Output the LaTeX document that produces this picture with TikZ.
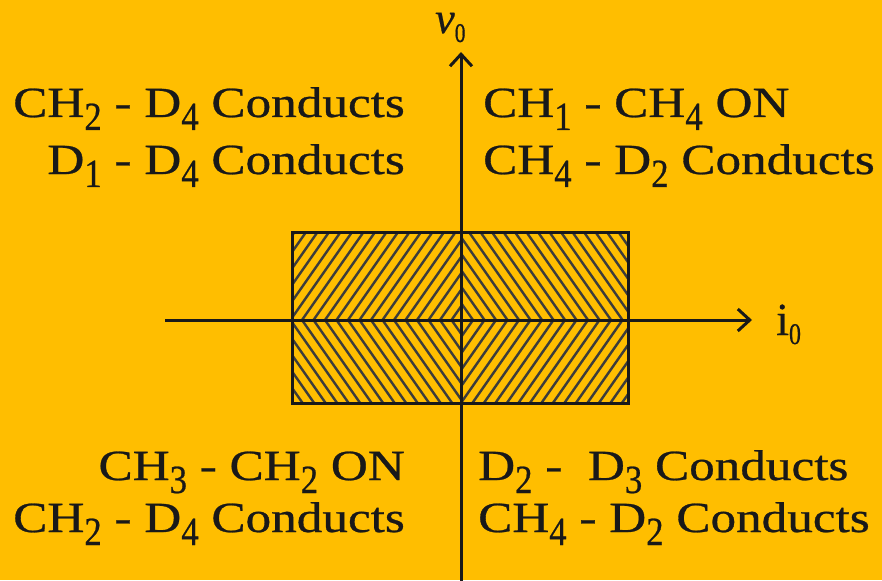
\documentclass[tikz,border=0pt]{standalone}
\usepackage{fontspec}
\setmainfont{Liberation Serif}[FakeBold=0.6]
\usetikzlibrary{arrows.meta}
\definecolor{bg}{RGB}{255,190,0}
\definecolor{ink}{RGB}{25,25,25}
\definecolor{hatch}{RGB}{60,60,60}
\newcommand\sbs[1]{\raisebox{-13pt}{\scalebox{0.73}[1]{\fontsize{40}{40}\selectfont #1}}}
\newcommand\widetxt[1]{\scalebox{1.19}[1]{#1}}
\begin{document}
\begin{tikzpicture}[x=1pt,y=-1pt,
  lbl/.style={font=\fontsize{43}{43}\selectfont, text=ink, inner sep=0pt},
  axis/.style={line width=3pt, draw=ink, -{Straight Barb[length=12pt,width=22pt,line width=3pt]}},
  hatchline/.style={line width=2.4pt, draw=hatch}]
\fill[bg] (0,0) rectangle (882,580);
\useasboundingbox (0,0) rectangle (882,580);
% hatching
\begin{scope}
  \clip (292,232) rectangle (461,320);
  \foreach \x in {180,191.5,...,500} \draw[hatchline] (\x,330) -- ++(77,-110);
\end{scope}
\begin{scope}
  \clip (461,232) rectangle (628,320);
  \foreach \x in {380,391.5,...,700} \draw[hatchline] (\x,220) -- ++(77,110);
\end{scope}
\begin{scope}
  \clip (292,320) rectangle (461,403);
  \foreach \x in {180,191.5,...,500} \draw[hatchline] (\x,310) -- ++(77,110);
\end{scope}
\begin{scope}
  \clip (461,320) rectangle (628,403);
  \foreach \x in {380,391.5,...,700} \draw[hatchline] (\x,420) -- ++(77,-110);
\end{scope}
\node[draw=ink, line width=3pt, minimum width=336pt, minimum height=171pt, inner sep=0pt] (box) at (460,317.5) {};
% axes
\coordinate (xs) at (165,320);
\coordinate (xe) at (752,320);
\coordinate (ys) at (461,582);
\coordinate (ye) at (461,52);
\draw[axis] (xs) -- (xe);
\draw[axis] (ys) -- (ye);
% axis labels
\node[lbl, anchor=base west, font=\fontsize{44}{44}\selectfont] (vlab) at (435,33) {\textit{v}\raisebox{-9pt}{\scalebox{0.8}[1]{\fontsize{27}{27}\selectfont 0}}};
\node[lbl, anchor=base west, font=\fontsize{46}{46}\selectfont] (ilab) at (776,335) {i\raisebox{-9pt}{\scalebox{0.8}[1]{\fontsize{30}{30}\selectfont 0}}};
% quadrant texts
\node[lbl, anchor=base east] (tl1) at (405,117) {\widetxt{CH\sbs{2} - D\sbs{4} Conducts}};
\node[lbl, anchor=base east] (tl2) at (405,174) {\widetxt{D\sbs{1} - D\sbs{4} Conducts}};
\node[lbl, anchor=base west] (tr1) at (483,117) {\widetxt{CH\sbs{1} - CH\sbs{4} ON}};
\node[lbl, anchor=base west] (tr2) at (483,174) {\widetxt{CH\sbs{4} - D\sbs{2} Conducts}};
\node[lbl, anchor=base east] (bl1) at (405,480) {\widetxt{CH\sbs{3} - CH\sbs{2} ON}};
\node[lbl, anchor=base east] (bl2) at (405,532) {\widetxt{CH\sbs{2} - D\sbs{4} Conducts}};
\node[lbl, anchor=base west] (br1) at (478,480) {\widetxt{D\sbs{2} -\ \ D\sbs{3} Conducts}};
\node[lbl, anchor=base west] (br2) at (478,532) {\widetxt{CH\sbs{4} - D\sbs{2} Conducts}};
\end{tikzpicture}
\end{document}
